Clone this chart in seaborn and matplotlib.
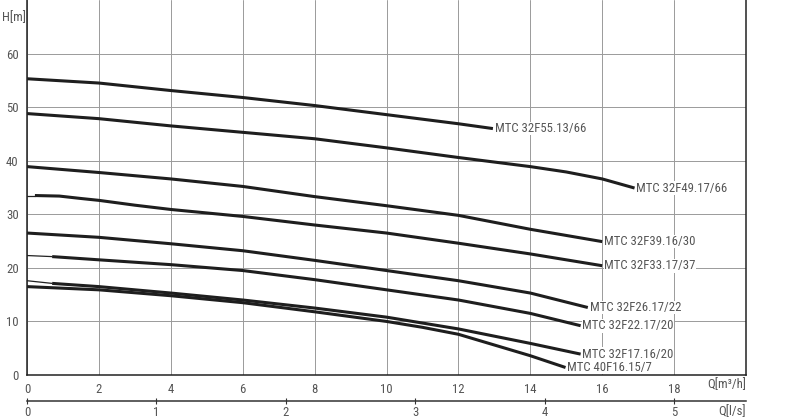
import numpy as np
import pandas as pd
import matplotlib
matplotlib.use("Agg")
import matplotlib.pyplot as plt
from matplotlib import font_manager
import seaborn as sns

# pump curves: Q [m3/h], H [m]
names = ["MTC 32F55.13/66", "MTC 32F49.17/66", "MTC 32F39.16/30", "MTC 32F33.17/37",
         "MTC 32F26.17/22", "MTC 32F22.17/20", "MTC 32F17.16/20", "MTC 40F16.15/7"]

q_55 = [0, 2, 4, 6, 8, 10, 12, 12.96]
h_55 = [55.3, 54.5, 53.1, 51.8, 50.3, 48.6, 46.9, 46.0]
q_49 = [0, 2, 4, 6, 8, 10, 12, 14, 15, 16, 16.9]
h_49 = [48.8, 47.85, 46.5, 45.3, 44.1, 42.4, 40.6, 38.9, 37.9, 36.6, 34.9]
q_39 = [0, 2, 4, 6, 8, 10, 12, 14, 16]
h_39 = [38.9, 37.8, 36.6, 35.2, 33.3, 31.6, 29.8, 27.2, 24.9]
q_33 = [0, 0.22, 0.9, 1.5, 2, 3, 4, 6, 8, 10, 12, 14, 16]
h_33 = [33.5, 33.5, 33.4, 32.95, 32.6, 31.7, 30.9, 29.6, 28.0, 26.5, 24.6, 22.6, 20.4]
q_26 = [0, 2, 4, 6, 8, 10, 12, 14, 15.6]
h_26 = [26.5, 25.7, 24.5, 23.2, 21.4, 19.5, 17.6, 15.3, 12.6]
q_22 = [0, 0.7, 2, 4, 6, 8, 10, 12, 14, 15.4]
h_22 = [22.3, 22.1, 21.5, 20.6, 19.5, 17.8, 15.9, 14.0, 11.5, 9.2]
q_17 = [0, 0.7, 2, 4, 6, 8, 10, 12, 14, 15.4]
h_17 = [17.6, 17.1, 16.5, 15.3, 14.0, 12.5, 10.8, 8.6, 5.9, 3.9]
q_16 = [0, 2, 4, 6, 8, 10, 11, 12, 13, 14, 14.98]
h_16 = [16.5, 15.9, 14.8, 13.5, 11.8, 10.0, 8.9, 7.6, 5.6, 3.6, 1.4]

# curves whose first segment is drawn thin
thin_start = [False, False, False, True, False, True, True, False]

curves = [(q_55, h_55), (q_49, h_49), (q_39, h_39), (q_33, h_33),
          (q_26, h_26), (q_22, h_22), (q_17, h_17), (q_16, h_16)]

sns.set_style("white")
installed = {f.name for f in font_manager.fontManager.ttflist}
narrow = [f for f in ["Liberation Sans Narrow", "DejaVu Sans Condensed", "Roboto Condensed",
                      "Open Sans Condensed"] if f in installed]
plt.rcParams['font.family'] = narrow[:1] + ['DejaVu Sans']
fs = 9.2 if narrow else 7.5
txt = "#555555"

fig = plt.figure(figsize=(8, 4.19), dpi=100)
ax = fig.add_axes([27 / 800, 1 - 375 / 419, 719 / 800, 375 / 419])

for name, (q, h), thin in zip(names, curves, thin_start):
    df = pd.DataFrame({"Q": q, "H": h})
    if thin:
        sns.lineplot(data=df.iloc[:2], x="Q", y="H", ax=ax, color="#222222",
                     lw=0.9, sort=False, estimator=None)
        df = df.iloc[1:]
    sns.lineplot(data=df, x="Q", y="H", ax=ax, color="#1e1e1e", lw=2.2,
                 sort=False, estimator=None, solid_joinstyle="round",
                 solid_capstyle="butt")
    ax.text(q[-1] + 0.05, h[-1], name, fontsize=fs, color=txt, va="center",
            ha="left", bbox=dict(facecolor="white", edgecolor="none", pad=0.3))

ax.set_xlim(0, 20)
ax.set_ylim(0, 70)
ax.set_xticks(range(0, 19, 2))
ax.set_yticks(range(0, 61, 10))
ax.grid(True, color="#9a9a9a", lw=0.7)
ax.set_axisbelow(True)
ax.tick_params(length=0, labelsize=fs, labelcolor=txt, pad=6)
ax.set_xlabel("")
ax.set_ylabel("")
for s in ["left", "bottom", "right"]:
    ax.spines[s].set_visible(True)
    ax.spines[s].set_color("#222222")
    ax.spines[s].set_linewidth(1.1)
ax.spines["top"].set_visible(False)

sec = ax.secondary_xaxis(-0.069, functions=(lambda x: x / 3.6, lambda x: x * 3.6))
sec.set_xticks([0, 1, 2, 3, 4, 5])
sec.spines["bottom"].set_color("#333333")
sec.spines["bottom"].set_linewidth(1.1)
sec.tick_params(direction="inout", length=4, color="#333333", labelsize=fs,
                labelcolor=txt, pad=2)

fig.text(2 / 800, 1 - 18 / 419, "H[m]", fontsize=fs, color=txt, va="center")
fig.text(746 / 800, 1 - 385 / 419, "Q[m³/h]", fontsize=fs, color=txt,
         va="center", ha="right")
fig.text(746 / 800, 1 - 412 / 419, "Q[l/s]", fontsize=fs, color=txt,
         va="center", ha="right")

fig.savefig("out.png", dpi=100)
